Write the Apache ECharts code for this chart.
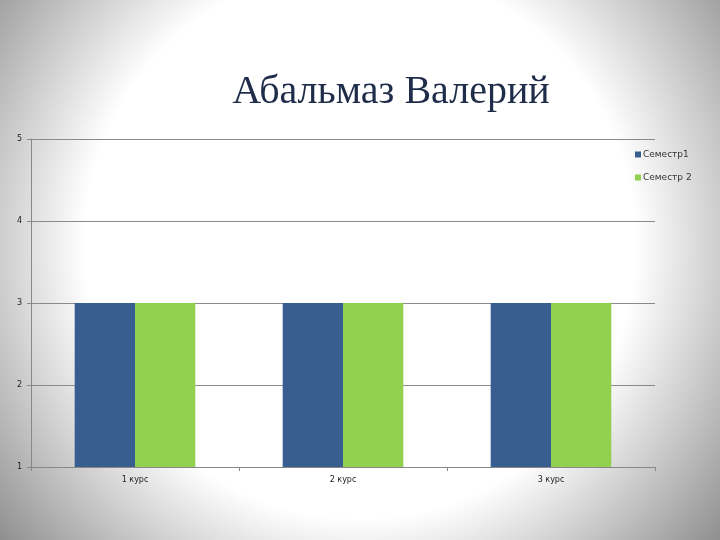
<!DOCTYPE html>
<html><head><meta charset="utf-8">
<script src="https://cdn.jsdelivr.net/npm/echarts@6/dist/echarts.min.js"></script>
<style>html,body{margin:0;padding:0;}#c{width:720px;height:540px;}</style>
</head><body><div id="c"></div>
<script>
const titleText = 'Абальмаз Валерий';
const categories = ['1 курс', '2 курс', '3 курс'];
const seriesNames = ['Семестр1', 'Семестр 2'];
const semester1 = [3, 3, 3];
const semester2 = [3, 3, 3];
const yTicks = [1, 2, 3, 4, 5];

const chart = echarts.init(document.getElementById('c'), null, {renderer: 'canvas'});
chart.setOption({
  animation: false,
  backgroundColor: 'transparent',
  graphic: [{
    type: 'rect', z: -10, silent: true,
    shape: {x: 0, y: 0, width: 720, height: 540},
    style: {fill: new echarts.graphic.RadialGradient(0.5, 0.45, 0.88, [
      {offset: 0, color: '#ffffff'},
      {offset: 0.58, color: '#ffffff'},
      {offset: 1, color: '#8a8a8a'}
    ])}
  }],
  title: {
    text: titleText, left: 386, top: 67, textAlign: 'center',
    textStyle: {fontFamily: 'Liberation Serif', fontSize: 40, fontWeight: 'normal', color: '#1f2d4a'}
  },
  legend: {
    orient: 'vertical', left: 630, top: 145, itemGap: 14,
    itemWidth: 6, itemHeight: 6, icon: 'rect',
    textStyle: {fontFamily: 'DejaVu Sans', fontSize: 9, color: '#333', padding: [0,0,0,-3]},
    data: seriesNames
  },
  grid: {left: 31, right: 65, top: 139, bottom: 73, containLabel: false},
  xAxis: {
    type: 'category', data: categories,
    axisLine: {lineStyle: {color: '#888', width: 1}},
    axisTick: {show: true, length: 4, lineStyle: {color: '#888'}},
    axisLabel: {fontFamily: 'DejaVu Sans', fontSize: 8, color: '#222', margin: 9}
  },
  yAxis: {
    type: 'value', min: yTicks[0], max: yTicks[yTicks.length - 1], interval: 1,
    axisLine: {show: true, lineStyle: {color: '#888', width: 1}},
    axisTick: {show: true, length: 4, lineStyle: {color: '#888'}},
    axisLabel: {fontFamily: 'DejaVu Sans', fontSize: 8, color: '#222', margin: 9},
    splitLine: {show: true, lineStyle: {color: '#8a8a8a', width: 1}}
  },
  series: [
    {name: seriesNames[0], type: 'bar', data: semester1, barGap: '0%', barCategoryGap: '42%',
     itemStyle: {color: '#375e8f'}, clip: true},
    {name: seriesNames[1], type: 'bar', data: semester2, barGap: '0%', barCategoryGap: '42%',
     itemStyle: {color: '#92d050'}, clip: true}
  ]
});
</script></body></html>
